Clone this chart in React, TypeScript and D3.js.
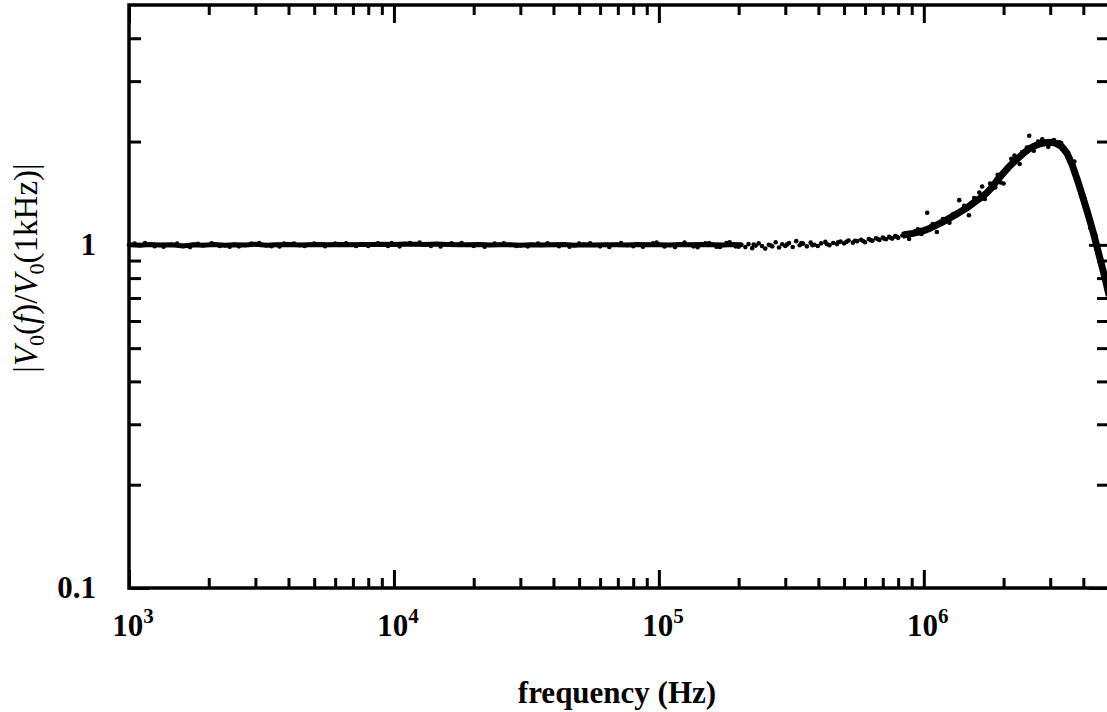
import { useEffect, useRef } from 'react';
import * as d3 from 'd3';

// flat response band, 1 kHz .. 200 kHz
const flatFreq = [1000, 1100, 1200, 1300, 1450, 1600, 1750, 1900, 2100, 2300, 2500, 2750, 3000, 3300, 3600, 4000, 4400, 4800, 5200, 5700, 6300, 6900, 7600, 8300, 9100, 10000, 11000, 12000, 13000, 14500, 16000, 17500, 19000, 21000, 23000, 25000, 27500, 30000, 33000, 36000, 40000, 44000, 48000, 52000, 57000, 63000, 69000, 76000, 83000, 91000, 100000, 110000, 120000, 130000, 145000, 160000, 175000, 190000, 205000];
const flatVal = [1.000, 0.998, 1.003, 0.999, 1.001, 0.993, 1.000, 0.998, 1.002, 0.997, 1.001, 0.999, 1.004, 0.998, 1.000, 1.002, 0.999, 1.001, 1.003, 1.000, 1.002, 1.001, 1.003, 1.002, 1.004, 1.003, 1.006, 1.004, 1.002, 1.005, 1.003, 1.001, 1.000, 1.002, 0.999, 1.001, 1.000, 0.998, 1.001, 0.999, 1.000, 1.002, 0.998, 1.001, 0.999, 1.000, 1.001, 0.999, 1.002, 1.000, 1.001, 0.999, 1.002, 1.000, 1.003, 1.001, 0.999, 1.002, 1.000];

// scattered points around the flat band
const flatOutFreq = [1050, 1150, 1250, 1350, 1520, 1700, 1820, 2050, 2200, 2400, 2600, 2900, 3100, 3450, 3700, 3850, 4200, 4600, 5000, 5500, 6000, 6600, 7200, 8000, 8700, 9500, 9800, 10500, 11500, 12500, 13800, 15000, 16500, 18000, 20000, 22000, 24000, 26000, 29000, 32000, 35000, 38000, 42000, 46000, 50000, 55000, 60000, 65000, 72000, 80000, 87000, 95000, 98000, 105000, 115000, 125000, 135000, 140000, 150000, 155000, 165000, 170000, 180000, 185000, 195000, 200000];
const flatOutVal = [1.009, 1.012, 0.991, 0.988, 1.008, 0.985, 1.007, 1.010, 0.992, 0.988, 0.990, 1.009, 1.012, 0.991, 0.989, 1.008, 1.009, 0.992, 1.008, 0.991, 1.009, 1.011, 0.992, 0.992, 1.010, 0.993, 1.013, 0.990, 1.012, 1.016, 0.992, 0.989, 1.010, 1.012, 0.993, 0.988, 1.009, 1.010, 0.992, 0.990, 1.009, 1.011, 0.991, 0.987, 1.009, 1.010, 0.990, 0.986, 1.012, 0.991, 0.988, 1.010, 1.015, 0.989, 0.985, 1.016, 0.990, 0.984, 1.011, 1.013, 0.988, 0.986, 1.012, 1.018, 0.990, 0.987];

// sparse points, 200 kHz .. 800 kHz
const sparseFreq = [212000, 218000, 225000, 232000, 238000, 245000, 252000, 260000, 268000, 276000, 284000, 292000, 300000, 310000, 320000, 330000, 340000, 350000, 362000, 374000, 386000, 398000, 410000, 425000, 440000, 455000, 470000, 485000, 500000, 520000, 540000, 560000, 580000, 600000, 620000, 640000, 660000, 680000, 700000, 720000, 740000, 760000, 780000, 800000];
const sparseVal = [0.985, 1.005, 0.978, 0.995, 1.010, 0.992, 0.975, 1.000, 0.990, 1.018, 0.982, 1.004, 0.993, 1.012, 0.986, 1.025, 0.997, 1.008, 0.990, 1.015, 1.001, 0.992, 1.010, 1.020, 0.998, 1.012, 1.005, 1.022, 1.010, 1.030, 1.015, 1.025, 1.035, 1.018, 1.040, 1.028, 1.045, 1.033, 1.050, 1.038, 1.055, 1.043, 1.060, 1.048];

const sparse2Freq = [228000, 265000, 305000, 345000, 380000, 430000, 475000, 510000, 550000, 590000, 630000, 670000, 710000, 750000, 790000];
const sparse2Val = [1.002, 0.996, 1.003, 1.013, 0.998, 1.006, 1.018, 1.020, 1.028, 1.026, 1.032, 1.040, 1.042, 1.048, 1.056];

// resonance band, 800 kHz .. 5 MHz
const peakFreq = [830000, 870000, 910000, 955000, 1000000, 1050000, 1100000, 1150000, 1200000, 1260000, 1320000, 1380000, 1450000, 1510000, 1580000, 1660000, 1740000, 1820000, 1900000, 2000000, 2090000, 2190000, 2290000, 2400000, 2510000, 2630000, 2750000, 2880000, 3020000, 3160000, 3310000, 3470000, 3630000, 3800000, 3980000, 4170000, 4370000, 4570000, 4790000, 5010000];
const peakVal = [1.065, 1.075, 1.080, 1.090, 1.100, 1.115, 1.135, 1.155, 1.175, 1.200, 1.225, 1.250, 1.280, 1.310, 1.345, 1.380, 1.425, 1.480, 1.550, 1.620, 1.685, 1.745, 1.800, 1.860, 1.910, 1.945, 1.970, 1.985, 1.990, 1.975, 1.935, 1.850, 1.710, 1.545, 1.380, 1.225, 1.080, 0.945, 0.820, 0.710];

const peakOutFreq = [850000, 880000, 930000, 950000, 980000, 1030000, 1060000, 1080000, 1120000, 1180000, 1250000, 1290000, 1360000, 1420000, 1480000, 1550000, 1620000, 1660000, 1700000, 1780000, 1860000, 1900000, 1950000, 2000000, 2140000, 2200000, 2300000, 2350000, 2450000, 2500000, 2600000, 2700000, 2800000, 2950000, 3100000, 3250000, 3300000, 3400000, 3500000, 3700000, 3900000, 4050000, 4250000, 4450000, 4650000, 4850000];
const peakOutVal = [1.078, 1.040, 1.095, 1.110, 1.075, 1.240, 1.130, 1.150, 1.090, 1.190, 1.160, 1.230, 1.350, 1.300, 1.220, 1.370, 1.420, 1.480, 1.360, 1.510, 1.470, 1.600, 1.520, 1.510, 1.780, 1.820, 1.720, 1.860, 1.920, 2.080, 1.880, 2.000, 2.030, 1.930, 2.020, 1.990, 1.980, 1.910, 1.800, 1.750, 1.450, 1.360, 1.120, 1.060, 0.900, 0.800];

const xMajor = [1e3, 1e4, 1e5, 1e6];
const xMinor = [2e3, 3e3, 4e3, 5e3, 6e3, 7e3, 8e3, 9e3, 2e4, 3e4, 4e4, 5e4, 6e4, 7e4, 8e4, 9e4, 2e5, 3e5, 4e5, 5e5, 6e5, 7e5, 8e5, 9e5, 2e6, 3e6, 4e6];
const xExp = ['3', '4', '5', '6'];
const yMajor = [0.1, 1];
const yMinor = [0.2, 0.3, 0.4, 0.5, 0.6, 0.7, 0.8, 0.9, 2, 3, 4];
const yLabels = ['0.1', '1'];

const W = 1107;
const H = 712;
const FONT = '"Liberation Serif", "Times New Roman", serif';

const FreqChart = () => {
  const svgRef = useRef(null);

  useEffect(() => {
    const svg = d3.select(svgRef.current);
    svg.selectAll('*').remove();

    const left = 129, right = 1109, top = 5, bottom = 588;

    const x = d3.scaleLog().domain([1e3, 5e6]).range([left, right]);
    const y = d3.scaleLog().domain([0.1, 5]).range([bottom, top]);

    const g = svg.append('g');

    // data
    const line = d3.line().x(d => x(d[0])).y(d => y(d[1]));
    const flat = flatFreq.map((f, i) => [f, flatVal[i]]);
    const peak = peakFreq.map((f, i) => [f, peakVal[i]]);

    g.append('path')
      .datum(flat)
      .attr('d', line)
      .attr('fill', 'none')
      .attr('stroke', '#000')
      .attr('stroke-width', 5);

    g.append('path')
      .datum(peak)
      .attr('d', line)
      .attr('fill', 'none')
      .attr('stroke', '#000')
      .attr('stroke-width', 7);

    const dots = [
      ...flat,
      ...flatOutFreq.map((f, i) => [f, flatOutVal[i]]),
      ...sparseFreq.map((f, i) => [f, sparseVal[i]]),
      ...sparse2Freq.map((f, i) => [f, sparse2Val[i]]),
      ...peak,
      ...peakOutFreq.map((f, i) => [f, peakOutVal[i]])
    ];

    g.selectAll('.dot')
      .data(dots)
      .enter()
      .append('circle')
      .attr('class', 'dot')
      .attr('cx', d => x(d[0]))
      .attr('cy', d => y(d[1]))
      .attr('r', 2.3)
      .attr('fill', '#000');

    // axes, ticks pointing inward
    const mk = (axis, tr, vals, size) => {
      g.append('g')
        .attr('transform', tr)
        .call(axis.tickValues(vals).tickSize(size).tickFormat(() => ''))
        .call(s => s.select('.domain').remove())
        .selectAll('line')
        .attr('stroke', '#000')
        .attr('stroke-width', 3);
    };
    mk(d3.axisBottom(x), `translate(0,${bottom})`, xMajor, -18);
    mk(d3.axisBottom(x), `translate(0,${bottom})`, xMinor, -10);
    mk(d3.axisTop(x), `translate(0,${top})`, xMajor, -18);
    mk(d3.axisTop(x), `translate(0,${top})`, xMinor, -10);
    mk(d3.axisLeft(y), `translate(${left},0)`, yMajor, -20);
    mk(d3.axisLeft(y), `translate(${left},0)`, yMinor, -12);
    mk(d3.axisRight(y), `translate(${right},0)`, yMajor, -20);
    mk(d3.axisRight(y), `translate(${right},0)`, yMinor, -12);

    g.append('rect')
      .attr('x', left)
      .attr('y', top)
      .attr('width', right - left)
      .attr('height', bottom - top)
      .attr('fill', 'none')
      .attr('stroke', '#000')
      .attr('stroke-width', 3.5);

    // x tick labels 10^n
    xMajor.forEach((v, i) => {
      const t = g.append('text')
        .attr('x', x(v) + 4)
        .attr('y', 636)
        .attr('text-anchor', 'middle')
        .style('font-family', FONT)
        .style('font-weight', 'bold')
        .style('font-size', '31px');
      t.append('tspan').text('10');
      t.append('tspan')
        .attr('dy', -13)
        .style('font-size', '21px')
        .text(xExp[i]);
    });

    // y tick labels
    yMajor.forEach((v, i) => {
      g.append('text')
        .attr('x', 96)
        .attr('y', y(v) + 10)
        .attr('text-anchor', 'end')
        .style('font-family', FONT)
        .style('font-weight', 'bold')
        .style('font-size', '31px')
        .text(yLabels[i]);
    });

    // axis titles
    g.append('text')
      .attr('x', 617)
      .attr('y', 703)
      .attr('text-anchor', 'middle')
      .style('font-family', FONT)
      .style('font-weight', 'bold')
      .style('font-size', '31px')
      .text('frequency (Hz)');

    const yt = g.append('text')
      .attr('transform', 'translate(37,268) rotate(-90)')
      .attr('text-anchor', 'middle')
      .style('font-family', FONT)
      .style('font-size', '33px');
    yt.append('tspan').text('|');
    yt.append('tspan').style('font-style', 'italic').text('V');
    yt.append('tspan').attr('dy', 7).style('font-size', '22px').text('0');
    yt.append('tspan').attr('dy', -7).text('(');
    yt.append('tspan').style('font-style', 'italic').text('f');
    yt.append('tspan').text(')/');
    yt.append('tspan').style('font-style', 'italic').text('V');
    yt.append('tspan').attr('dy', 7).style('font-size', '22px').text('0');
    yt.append('tspan').attr('dy', -7).text('(1kHz)|');
  }, []);

  return <svg ref={svgRef} width={W} height={H} style={{ display: 'block' }} />;
};

export default function App() {
  return (
    <div style={{ position: 'absolute', left: 0, top: 0, background: '#fff' }}>
      <FreqChart />
    </div>
  );
}
